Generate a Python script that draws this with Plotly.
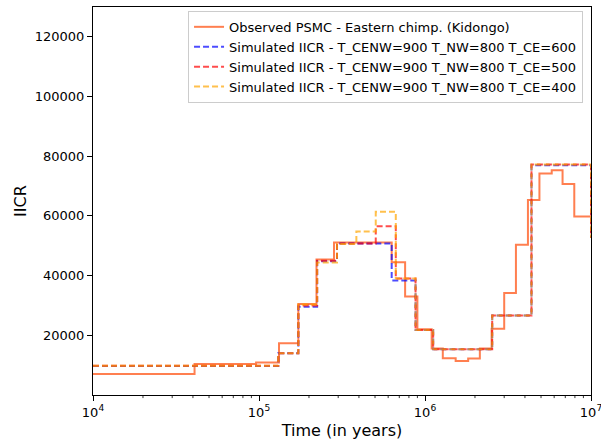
import plotly.graph_objects as go

# Observed PSMC (step starts in years, IICR values)
obs_t = [1e4, 40900, 96000, 132000, 172600, 222000, 283000, 630000, 759000, 900000,
         1.097e6, 1.28e6, 1.53e6, 1.82e6, 2.14e6, 2.52e6, 3.0e6, 3.53e6, 4.17e6,
         4.89e6, 5.8e6, 6.74e6, 7.93e6, 1e7]
obs_v = [7000, 10400, 10900, 17300, 30500, 45400, 51100, 44500, 33000, 22000,
         15600, 12300, 11400, 12200, 15600, 22200, 34200, 50300, 65300,
         74200, 75300, 70700, 59800, 59800]

# Simulated IICR, T_CE=600
sim600_t = [1e4, 130600, 172600, 224000, 295000, 630000, 877000, 1.12e6, 2.54e6, 4.38e6, 1e7, 1.3e7]
sim600_v = [9700, 14000, 29600, 44800, 50800, 38400, 21800, 15300, 26600, 77000, 53000, 53000]

# Simulated IICR, T_CE=500
sim500_t = [1e4, 130600, 172600, 224000, 295000, 505000, 667000, 877000, 1.12e6, 2.54e6, 4.38e6, 1e7, 1.3e7]
sim500_v = [9800, 14000, 30000, 45000, 50800, 56500, 39000, 21800, 15300, 26600, 77200, 53000, 53000]

# Simulated IICR, T_CE=400
sim400_t = [1e4, 130600, 172600, 224000, 295000, 386000, 505000, 667000, 877000, 1.12e6, 2.54e6, 4.38e6, 1e7, 1.3e7]
sim400_v = [9800, 14000, 30300, 44400, 50600, 54800, 61400, 39000, 21800, 15300, 26600, 77200, 53000, 53000]

names = ["Observed PSMC - Eastern chimp. (Kidongo)",
         "Simulated IICR - T_CENW=900 T_NW=800 T_CE=600",
         "Simulated IICR - T_CENW=900 T_NW=800 T_CE=500",
         "Simulated IICR - T_CENW=900 T_NW=800 T_CE=400"]

x_major = [1e4, 1e5, 1e6, 1e7]
x_major_text = ["10<sup>4</sup>", "10<sup>5</sup>", "10<sup>6</sup>", "10<sup>7</sup>"]
x_minor = [m * 10 ** k for k in (4, 5, 6) for m in range(2, 10)]
y_ticks = [20000, 40000, 60000, 80000, 100000, 120000]

fig = go.Figure()
fig.add_trace(go.Scatter(x=obs_t, y=obs_v, mode="lines", line_shape="hv", name=names[0],
                         line=dict(color="rgba(255,127,80,1)", width=2)))
fig.add_trace(go.Scatter(x=sim600_t, y=sim600_v, mode="lines", line_shape="hv", name=names[1],
                         line=dict(color="rgba(0,0,255,0.7)", width=2, dash="6px,3px")))
fig.add_trace(go.Scatter(x=sim500_t, y=sim500_v, mode="lines", line_shape="hv", name=names[2],
                         line=dict(color="rgba(255,0,0,0.7)", width=2, dash="6px,3px")))
fig.add_trace(go.Scatter(x=sim400_t, y=sim400_v, mode="lines", line_shape="hv", name=names[3],
                         line=dict(color="rgba(255,165,0,0.7)", width=2, dash="6px,3px")))

# minor ticks along the log x axis
for xv in x_minor:
    fig.add_shape(type="line", xref="x", yref="paper", x0=xv, x1=xv, y0=0, y1=-0.008,
                  line=dict(color="black", width=0.8), layer="above")

font = dict(family="DejaVu Sans", size=13, color="black")
fig.update_layout(
    width=601, height=444,
    margin=dict(l=93, r=10, t=7, b=49),
    paper_bgcolor="white", plot_bgcolor="white",
    font=font,
    showlegend=True,
    legend=dict(x=0.984, y=0.99, xanchor="right", yanchor="top",
                bgcolor="rgba(255,255,255,0.8)", bordercolor="#cccccc", borderwidth=1,
                font=dict(family="DejaVu Sans", size=13), tracegroupgap=0,
                itemwidth=30),
    xaxis=dict(type="log", range=[4, 7], showgrid=False, showline=True, linecolor="black",
               linewidth=1, mirror=True, ticks="outside", ticklen=5, tickcolor="black",
               tickmode="array", tickvals=x_major, ticktext=x_major_text,
               ticklabeloverflow="allow", automargin=False,
               title=dict(text="Time (in years)", standoff=6), zeroline=False),
    yaxis=dict(range=[0, 130000], showgrid=False, showline=True, linecolor="black",
               linewidth=1, mirror=True, ticks="outside", ticklen=5, tickcolor="black",
               tickmode="array", tickvals=y_ticks, ticktext=[str(v) for v in y_ticks],
               automargin=False,
               title=dict(text="IICR", standoff=4), zeroline=False),
)
fig.write_html("out.html", config={"displayModeBar": False},
               post_script="document.body.style.margin='0';document.body.style.overflow='hidden';")
